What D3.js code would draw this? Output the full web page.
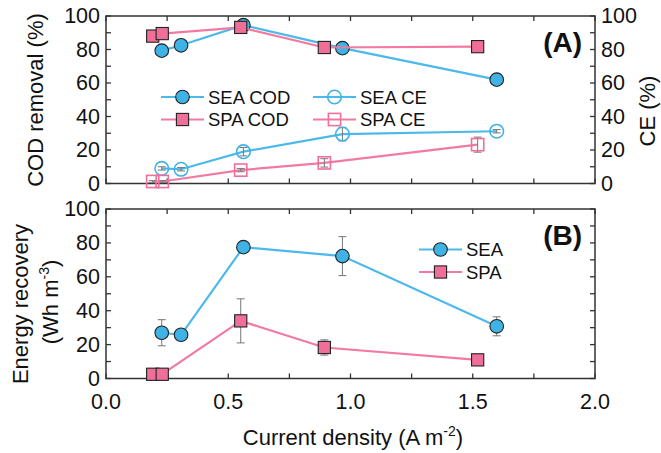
<!DOCTYPE html>
<html><head><meta charset="utf-8">
<script src="https://cdn.jsdelivr.net/npm/d3@7"></script>
<style>
body{margin:0;background:#fff;}
text{font-family:"Liberation Sans",Arial,sans-serif;fill:#111;}
</style></head>
<body><svg id="c" width="661" height="453"></svg>
<script>
// ---- data ----
const seaX = [0.228, 0.307, 0.562, 0.967, 1.598];
const spaX = [0.191, 0.230, 0.551, 0.893, 1.520];
const seaCOD = [79.3, 82.5, 94.5, 80.8, 62.0];
const seaCODerr = [1.5, 1.5, 1.5, 1.5, 2.0];
const spaCOD = [88.0, 89.5, 93.2, 81.2, 81.7];
const spaCODerr = [1.5, 1.5, 1.5, 3.5, 1.0];
const seaCE = [9.0, 8.5, 19.0, 29.5, 31.2];
const seaCEerr = [1.0, 1.0, 2.5, 4.0, 1.0];
const spaCE = [1.2, 1.2, 8.0, 12.3, 23.2];
const spaCEerr = [0.5, 0.5, 1.0, 2.5, 4.5];
const seaER = [27.0, 25.8, 77.5, 72.2, 30.8];
const seaERerr = [7.7, 2.0, 1.5, 11.5, 5.6];
const spaER = [2.5, 2.5, 34.0, 18.3, 11.0];
const spaERerr = [1.0, 1.0, 13.0, 4.5, 2.5];
const xTicks = [0, 0.5, 1.0, 1.5, 2.0];
const yTicks = [0, 20, 40, 60, 80, 100];

const BLUE = "#3fb3e6", BLUE_L = "#4cb9ea";
const PINK = "#f06f98", PINK_L = "#f27aa1";
const AX = "#333";
const TICKFS = 21.5, LEGFS = 18.5, TITLEFS = 22;

const svg = d3.select("#c");
const x = d3.scaleLinear().domain([0, 2]).range([106, 595]);
const yA = d3.scaleLinear().domain([0, 100]).range([183.5, 16]);
const yB = d3.scaleLinear().domain([0, 100]).range([378.5, 209]);

function frame(y, showXLabels, showRightLabels) {
  const g = svg.append("g");
  const [x0, x1] = x.range(), [yb, yt] = y.range();
  const minorX = d3.range(0, 2.001, 0.25), minorY = d3.range(0, 100.1, 10);
  minorX.forEach(v => {
    const L = 5;
    g.append("line").attr("x1", x(v)).attr("x2", x(v)).attr("y1", yb).attr("y2", yb - L).attr("stroke", AX).attr("stroke-width", 1.3);
    g.append("line").attr("x1", x(v)).attr("x2", x(v)).attr("y1", yt).attr("y2", yt + L).attr("stroke", AX).attr("stroke-width", 1.3);
  });
  minorY.forEach(v => {
    const L = 5;
    g.append("line").attr("x1", x0).attr("x2", x0 + L).attr("y1", y(v)).attr("y2", y(v)).attr("stroke", AX).attr("stroke-width", 1.3);
    g.append("line").attr("x1", x1).attr("x2", x1 - L).attr("y1", y(v)).attr("y2", y(v)).attr("stroke", AX).attr("stroke-width", 1.3);
  });
  g.append("rect").attr("x", x0).attr("y", yt).attr("width", x1 - x0).attr("height", yb - yt)
    .attr("fill", "none").attr("stroke", AX).attr("stroke-width", 1.5);
  yTicks.forEach(v => {
    g.append("text").attr("x", x0 - 6).attr("y", y(v)).attr("dy", "0.34em").attr("text-anchor", "end")
      .attr("font-size", TICKFS).text(v);
    if (showRightLabels)
      g.append("text").attr("x", x1 + 6).attr("y", y(v)).attr("dy", "0.34em").attr("text-anchor", "start")
        .attr("font-size", TICKFS).text(v);
  });
  if (showXLabels) xTicks.forEach(v => {
    g.append("text").attr("x", x(v)).attr("y", yb + 30.5).attr("text-anchor", "middle")
      .attr("font-size", TICKFS).text(d3.format(".1f")(v));
  });
}

function series(xs, ys, errs, y, color, lineColor, shape, filled) {
  const g = svg.append("g");
  const line = d3.line().x(d => x(d[0])).y(d => y(d[1]));
  const pts = xs.map((v, i) => [v, ys[i], errs[i]]);
  g.append("path").attr("d", line(pts)).attr("fill", "none").attr("stroke", lineColor).attr("stroke-width", 2.2);
  pts.forEach(p => {
    const cx = x(p[0]);
    g.append("line").attr("x1", cx).attr("x2", cx).attr("y1", y(p[1] - p[2])).attr("y2", y(p[1] + p[2])).attr("stroke", "#777").attr("stroke-width", 1);
    [p[1] - p[2], p[1] + p[2]].forEach(e => g.append("line").attr("x1", cx - 4).attr("x2", cx + 4).attr("y1", y(e)).attr("y2", y(e)).attr("stroke", "#777").attr("stroke-width", 1));
  });
  pts.forEach(p => marker(g, x(p[0]), y(p[1]), color, shape, filled));
}

function marker(g, cx, cy, color, shape, filled) {
  if (shape === "circle") {
    g.append("circle").attr("cx", cx).attr("cy", cy).attr("r", 6.8)
      .attr("fill", filled ? color : "#fff").attr("fill-opacity", filled ? 1 : 0)
      .attr("stroke", filled ? "#222" : color).attr("stroke-width", filled ? 1.1 : 1.6);
  } else {
    g.append("rect").attr("x", cx - 6.1).attr("y", cy - 6.1).attr("width", 12.2).attr("height", 12.2)
      .attr("fill", filled ? color : "#fff").attr("fill-opacity", filled ? 1 : 0)
      .attr("stroke", filled ? "#222" : color).attr("stroke-width", filled ? 1.1 : 1.6);
  }
}

function legendItem(lx, ly, label, color, lineColor, shape, filled) {
  const g = svg.append("g");
  g.append("line").attr("x1", lx).attr("x2", lx + 43).attr("y1", ly).attr("y2", ly).attr("stroke", lineColor).attr("stroke-width", 2.2);
  marker(g, lx + 21.5, ly, color, shape, filled);
  g.append("text").attr("x", lx + 47).attr("y", ly).attr("dy", "0.36em").attr("font-size", LEGFS).text(label);
}

// Panel A
frame(yA, false, true);
series(seaX, seaCOD, seaCODerr, yA, BLUE, BLUE_L, "circle", true);
series(spaX, spaCOD, spaCODerr, yA, PINK, PINK_L, "rect", true);
series(seaX, seaCE, seaCEerr, yA, BLUE, BLUE_L, "circle", false);
series(spaX, spaCE, spaCEerr, yA, PINK, PINK_L, "rect", false);
legendItem(161, 97, "SEA COD", BLUE, BLUE_L, "circle", true);
legendItem(161, 119.5, "SPA COD", PINK, PINK_L, "rect", true);
legendItem(313, 97, "SEA CE", BLUE, BLUE_L, "circle", false);
legendItem(313, 119.5, "SPA CE", PINK, PINK_L, "rect", false);
svg.append("text").attr("x", 582).attr("y", 52).attr("text-anchor", "end").attr("font-size", 28).attr("font-weight", "bold").text("(A)");
svg.append("text").attr("transform", "translate(43,100) rotate(-90)").attr("text-anchor", "middle").attr("font-size", TITLEFS).text("COD removal (%)");
svg.append("text").attr("transform", "translate(655,111) rotate(-90)").attr("text-anchor", "middle").attr("font-size", TITLEFS).text("CE (%)");

// Panel B
frame(yB, true, false);
series(seaX, seaER, seaERerr, yB, BLUE, BLUE_L, "circle", true);
series(spaX, spaER, spaERerr, yB, PINK, PINK_L, "rect", true);
legendItem(419, 249.5, "SEA", BLUE, BLUE_L, "circle", true);
legendItem(419, 272, "SPA", PINK, PINK_L, "rect", true);
svg.append("text").attr("x", 582).attr("y", 245).attr("text-anchor", "end").attr("font-size", 28).attr("font-weight", "bold").text("(B)");
const t1 = svg.append("text").attr("transform", "translate(28,304) rotate(-90)").attr("text-anchor", "middle").attr("font-size", TITLEFS);
t1.text("Energy recovery");
const t2 = svg.append("text").attr("transform", "translate(58,302) rotate(-90)").attr("text-anchor", "middle").attr("font-size", TITLEFS);
t2.append("tspan").text("(Wh m");
t2.append("tspan").attr("font-size", 14).attr("dy", -9).text("-3");
t2.append("tspan").attr("dy", 9).text(")");
// x title
const xt = svg.append("text").attr("x", 353).attr("y", 445).attr("text-anchor", "middle").attr("font-size", TITLEFS);
xt.append("tspan").text("Current density (A m");
xt.append("tspan").attr("font-size", 14).attr("dy", -9).text("-2");
xt.append("tspan").attr("dy", 9).text(")");
</script></body></html>
